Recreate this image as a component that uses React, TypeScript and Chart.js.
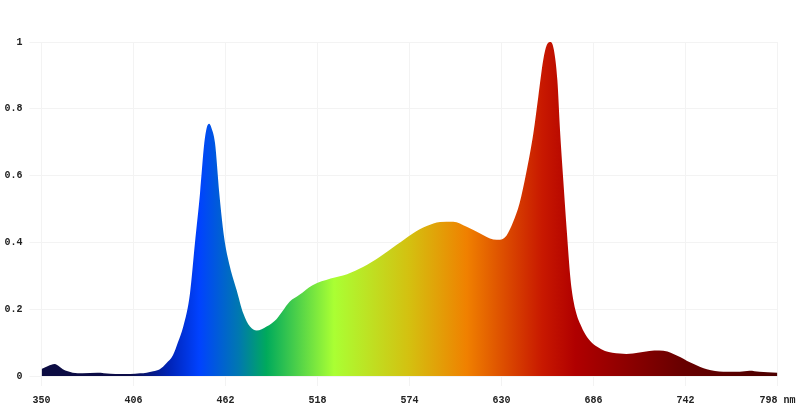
import React, { useEffect, useRef } from "react";
import { Chart, registerables } from "chart.js";

Chart.register(...registerables);

const wavelengths = [
  350, 354, 358, 361, 363, 366, 369, 375, 384, 392, 398, 404, 410, 414, 418, 422, 426, 430, 433,
  436.3, 440.4, 443.4, 446.5, 449.1, 450.5, 452, 453.5, 455.6, 458.2, 461.1, 464.7, 468.8, 472.8,
  476.9, 481, 487, 493, 497, 501, 507, 515, 526, 536, 546, 556, 566, 576, 584.5, 592.6, 600.6,
  608.8, 617, 625, 629, 633, 637, 641, 645, 649.4, 652.4, 655.4, 657.5, 659.9, 661.9, 664, 665.6,
  667.6, 669.7, 672, 674, 676, 678, 681, 684, 688, 693, 702, 706, 714, 720, 726, 731,
  735, 739, 743, 747, 751, 755, 760, 765, 770, 775, 781, 787, 792, 798,
];

const intensities = [
  0.021, 0.03, 0.036, 0.028, 0.02, 0.014, 0.01, 0.008, 0.01, 0.007, 0.006, 0.006, 0.008, 0.01,
  0.014, 0.02, 0.038, 0.062, 0.1, 0.148, 0.248, 0.398, 0.548, 0.698, 0.742, 0.755, 0.742, 0.698,
  0.548, 0.417, 0.327, 0.257, 0.188, 0.148, 0.136, 0.148, 0.17, 0.196, 0.222, 0.243, 0.272, 0.292,
  0.305, 0.327, 0.357, 0.392, 0.427, 0.449, 0.461, 0.462, 0.447, 0.427, 0.409, 0.408, 0.42, 0.46,
  0.517, 0.607, 0.727, 0.836, 0.946, 0.99, 1.0, 0.976, 0.886, 0.737, 0.587, 0.437, 0.29, 0.22,
  0.18, 0.155, 0.125, 0.105, 0.088, 0.075, 0.067, 0.066, 0.07, 0.075, 0.076, 0.073, 0.065, 0.056,
  0.045, 0.036, 0.027, 0.02, 0.015, 0.013, 0.013, 0.013, 0.016, 0.013, 0.011, 0.01,
];

const xTickValues = [350, 406, 462, 518, 574, 630, 686, 742, 798];
const xUnit = "nm";
const yTickValues = [0, 0.2, 0.4, 0.6, 0.8, 1];

// spectrum colour stops (wavelength, colour)
const gradientNm = [350, 404, 428, 446, 470, 487, 528, 574, 609, 655, 675, 740, 798];
const gradientColors = [
  "#0c0c42", "#0c0c48", "#0024b8", "#0042ff", "#0078b0", "#00aa5c", "#aaff33", "#d4c010",
  "#f08000", "#c81800", "#b00000", "#680000", "#4c0000",
];

const FONT = { family: "'Liberation Mono', 'Courier New', monospace", size: 10, weight: "bold" as const };

export default function App() {
  const canvasRef = useRef<HTMLCanvasElement | null>(null);

  useEffect(() => {
    if (!canvasRef.current) return;
    const points = wavelengths.map((w, i) => ({ x: w, y: intensities[i] }));
    const chart = new Chart(canvasRef.current, {
      type: "line",
      data: {
        datasets: [
          {
            data: points,
            fill: "origin",
            borderWidth: 0,
            pointRadius: 0,
            cubicInterpolationMode: "monotone",
            backgroundColor: (ctx: any) => {
              const c = ctx.chart;
              const xs = c.scales?.x;
              if (!c.chartArea || !xs) return "#0040ff";
              const x0 = xs.getPixelForValue(gradientNm[0]);
              const x1 = xs.getPixelForValue(gradientNm[gradientNm.length - 1]);
              const g = c.ctx.createLinearGradient(x0, 0, x1, 0);
              const span = gradientNm[gradientNm.length - 1] - gradientNm[0];
              gradientNm.forEach((nm, i) => {
                g.addColorStop((nm - gradientNm[0]) / span, gradientColors[i]);
              });
              return g;
            },
          },
        ],
      },
      options: {
        animation: false,
        responsive: true,
        maintainAspectRatio: false,
        layout: { padding: { left: 5, right: 22.5, top: 42, bottom: 1 } },
        plugins: { legend: { display: false }, tooltip: { enabled: false } },
        scales: {
          x: {
            type: "linear",
            min: 350,
            max: 798,
            afterBuildTicks: (axis: any) => {
              axis.ticks = xTickValues.map((v) => ({ value: v }));
            },
            afterFit: (axis: any) => {
              axis.paddingLeft = 0;
              axis.paddingRight = 0;
            },
            ticks: {
              autoSkip: false,
              maxRotation: 0,
              padding: 8,
              color: "#222",
              font: FONT,
              callback: (v: any) => (v === xTickValues[xTickValues.length - 1] ? `${v} ${xUnit}` : `${v}`),
            },
            grid: { color: "#f3f3f3", tickLength: 10 },
            border: { display: false },
          },
          y: {
            min: 0,
            max: 1,
            afterBuildTicks: (axis: any) => {
              axis.ticks = yTickValues.map((v) => ({ value: v }));
            },
            afterFit: (axis: any) => {
              axis.width = 36.5;
              axis.paddingTop = 0;
              axis.paddingBottom = 0;
            },
            ticks: { padding: 7, color: "#222", font: FONT, callback: (v: any) => `${v}` },
            grid: { color: "#f3f3f3", tickLength: 12 },
            border: { display: false },
          },
        },
      },
    } as any);
    return () => chart.destroy();
  }, []);

  return (
    <div style={{ position: "absolute", left: 0, top: 0, width: 800, height: 415 }}>
      <canvas ref={canvasRef} />
    </div>
  );
}
